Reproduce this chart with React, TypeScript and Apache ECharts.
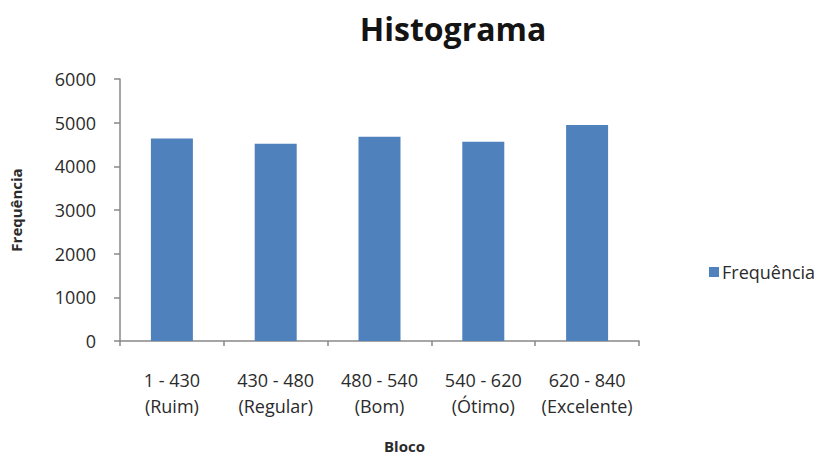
import React, { useEffect, useRef } from "react";
import * as echarts from "echarts";

const categories = [
  "1 - 430\n(Ruim)",
  "430 - 480\n(Regular)",
  "480 - 540\n(Bom)",
  "540 - 620\n(Ótimo)",
  "620 - 840\n(Excelente)",
];
const frequencias = [4640, 4520, 4680, 4565, 4945];
const seriesName = "Frequência";
const titleText = "Histograma";
const xName = "Bloco";
const yName = "Frequência";

export default function App() {
  const ref = useRef<HTMLDivElement>(null);
  useEffect(() => {
    document.body.style.margin = "0";
    if (!ref.current) return;
    const chart = echarts.init(ref.current, null, { renderer: "svg" });
    const font = "'Open Sans', sans-serif";
    const textColor = "#2b2b2b";
    const axisColor = "#888888";
    chart.setOption({
      animation: false,
      backgroundColor: "#ffffff",
      title: {
        text: titleText,
        left: 448,
        top: 7,
        textAlign: "center",
        textStyle: { fontFamily: font, fontSize: 32, fontWeight: "bold", color: "#141414" },
      },
      legend: {
        left: 704,
        top: 258,
        orient: "vertical",
        icon: "rect",
        itemWidth: 10,
        itemHeight: 10,
        itemGap: 5,
        textStyle: { fontFamily: font, fontSize: 18, color: textColor, padding: [0, 0, 0, -2] },
        data: [seriesName],
      },
      grid: { left: 115, right: 186, top: 79, bottom: 118, containLabel: false },
      xAxis: {
        type: "category",
        data: categories,
        axisLine: { lineStyle: { color: axisColor, width: 1.5 } },
        axisTick: { show: true, length: 5, alignWithLabel: false, lineStyle: { color: axisColor, width: 1.5 } },
        axisLabel: {
          fontFamily: font,
          fontSize: 18,
          color: textColor,
          lineHeight: 26,
          margin: 26,
          interval: 0,
        },
        splitLine: { show: false },
      },
      yAxis: {
        type: "value",
        min: 0,
        max: 6000,
        interval: 1000,
        name: yName,
        nameLocation: "middle",
        nameRotate: 90,
        nameGap: 97,
        nameTextStyle: { fontFamily: font, fontSize: 15, fontWeight: "bold", color: textColor },
        axisLine: { show: true, lineStyle: { color: axisColor, width: 1.5 } },
        axisTick: { show: true, length: 6, lineStyle: { color: axisColor, width: 1.5 } },
        axisLabel: {
          fontFamily: font,
          fontSize: 18,
          color: textColor,
          margin: 24,
          formatter: (v: number) => String(v),
        },
        splitLine: { show: false },
      },
      graphic: [
        {
          type: "text",
          left: 384,
          top: 438,
          style: {
            text: xName,
            fontFamily: font,
            fontSize: 15,
            fontWeight: "bold",
            fill: textColor,
          },
        },
      ],
      series: [
        {
          name: seriesName,
          type: "bar",
          data: frequencias,
          barWidth: 42,
          itemStyle: { color: "#4F81BD" },
        },
      ],
    });
    return () => chart.dispose();
  }, []);
  return <div ref={ref} style={{ width: 825, height: 459 }} />;
}
